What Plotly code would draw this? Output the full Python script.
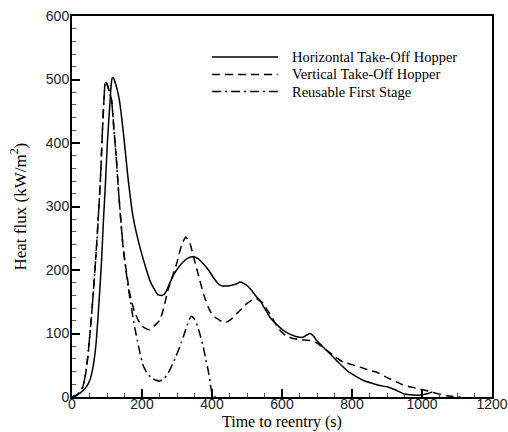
import plotly.graph_objects as go

# Horizontal Take-Off Hopper (solid)
htoh_t = [0, 12, 25, 41, 52, 60, 68, 75, 84, 90, 96, 101, 108, 112, 115, 119, 124, 130, 136, 148, 160, 175, 194, 210,
          222, 235, 246, 258, 268, 279, 290, 299, 318, 332, 346, 360, 375, 390, 403, 415, 427, 445, 456,
          470, 480, 490, 499, 510, 527, 537, 550, 565, 585, 604, 622, 642, 660, 672, 680, 690, 699, 715,
          737, 760, 785, 810, 833, 855, 880, 900, 925, 948, 975, 995, 1015, 1030]
htoh_q = [0, 3, 7, 16, 28, 47, 80, 131, 210, 280, 341, 400, 460, 492, 503, 502, 494, 482, 465, 410, 345, 282, 236, 205,
          184, 170, 161, 160, 165, 179, 192, 200, 213, 219, 221, 218, 210, 200, 189, 180, 175, 175, 176,
          178, 181, 179, 176, 170, 158, 152, 140, 126, 114, 105, 99, 95, 94, 98, 100, 96, 89, 80,
          68, 55, 42, 33, 26, 22, 18, 16, 11, 5, 3, 3, 5, 8]

# Vertical Take-Off Hopper (dashed)
vtoh_t = [0, 15, 31, 40, 46, 53, 60, 70, 81, 87, 92, 95, 100, 106, 113, 120, 127, 132, 146, 165, 178, 189,
          200, 210, 222, 235, 251, 262, 274, 287, 299, 313, 325, 337, 350, 365, 377, 389, 400, 413, 428,
          442, 456, 470, 485, 499, 515, 527, 545, 565, 580, 594, 610, 632, 655, 680, 700, 727, 750, 775,
          800, 823, 850, 871, 895, 918, 942, 966, 990, 1014, 1040, 1071, 1110]
vtoh_q = [0, 3, 16, 40, 68, 110, 158, 236, 340, 420, 475, 497, 493, 482, 468, 420, 373, 331, 236, 163, 135, 121,
          112, 108, 106, 112, 121, 140, 168, 190, 210, 239, 252, 242, 215, 184, 160, 142, 130, 124, 119,
          118, 123, 131, 139, 147, 153, 155, 148, 131, 117, 105, 97, 92, 90, 89, 85, 74, 64, 55,
          51, 47, 42, 39, 32, 26, 20, 16, 13, 10, 6, 2, 0]

# Reusable First Stage (dash-dot)
rfs_t = [0, 15, 31, 40, 46, 53, 60, 70, 81, 87, 92, 95, 100, 106, 113, 120, 127, 132, 146, 160, 170, 179,
         190, 203, 215, 230, 250, 265, 279, 294, 308, 320, 327, 335, 341, 348, 356, 366, 375, 382, 389,
         395, 399, 404, 410]
rfs_q = [0, 3, 16, 40, 68, 110, 158, 236, 340, 420, 475, 497, 493, 482, 468, 420, 373, 331, 236, 175, 140, 110,
         80, 50, 37, 29, 25, 30, 42, 60, 79, 98, 110, 122, 127, 124, 116, 98, 79, 60, 42,
         22, 8, 2, 0]

legend_names = ["Horizontal Take-Off Hopper", "Vertical Take-Off Hopper", "Reusable First Stage"]
dashes = ["solid", "8px,5px", "9px,4px,2px,4px"]
x_title = "Time to reentry (s)"
y_title = "Heat flux (kW/m<sup>2</sup>)"

fig = go.Figure()
for t, q, name, dash in zip([htoh_t, vtoh_t, rfs_t], [htoh_q, vtoh_q, rfs_q], legend_names, dashes):
    fig.add_trace(go.Scatter(x=t, y=q, mode="lines", name=name, showlegend=False,
                             line=dict(color="black", width=1.5, dash=dash, shape="spline", smoothing=0.4)))

# legend drawn as key samples + text, in paper coordinates
L, R, T, B = 72, 492, 16, 397
W, H = R - L, B - T
rows = [57, 74.5, 91.5]
for py, name, dash in zip(rows, legend_names, dashes):
    yp = (B - py) / H
    fig.add_shape(type="line", xref="paper", yref="paper",
                  x0=(212 - L) / W, x1=(278 - L) / W, y0=yp, y1=yp,
                  line=dict(color="black", width=1.5, dash=dash))
    fig.add_annotation(xref="paper", yref="paper", x=(290 - L) / W, y=yp, text=name,
                       showarrow=False, xanchor="left", yanchor="middle",
                       font=dict(family="Liberation Serif", size=14.5, color="black"))

# axis titles
fig.add_annotation(xref="paper", yref="paper", x=0.5, y=(B - 421.6) / H, text=x_title,
                   showarrow=False, xanchor="center", yanchor="middle",
                   font=dict(family="Liberation Serif", size=16, color="black"))
fig.add_annotation(xref="paper", yref="paper", x=(18 - L) / W, y=0.5, text=y_title, textangle=-90,
                   showarrow=False, xanchor="center", yanchor="middle",
                   font=dict(family="Liberation Serif", size=17, color="black"))

axis_common = dict(showline=True, linecolor="black", linewidth=2, mirror=True,
                   ticks="inside", ticklen=8, tickwidth=2, tickcolor="black",
                   showgrid=False, zeroline=False, automargin=False,
                   tickfont=dict(family="Liberation Sans", size=14, color="#222"))

fig.update_xaxes(range=[0, 1200], dtick=200, tick0=0, ticklabelstandoff=-7,
                 minor=dict(dtick=50, ticks="inside", ticklen=4, tickwidth=1, tickcolor="#555"),
                 **axis_common)
fig.update_yaxes(range=[0, 600], dtick=100, tick0=0, ticklabelstandoff=-2,
                 minor=dict(dtick=20, ticks="inside", ticklen=4, tickwidth=1, tickcolor="#555"),
                 **axis_common)

fig.update_layout(width=508, height=432, margin=dict(l=72, r=16, t=16, b=35),
                  paper_bgcolor="white", plot_bgcolor="white")

fig.write_html("out.html")
